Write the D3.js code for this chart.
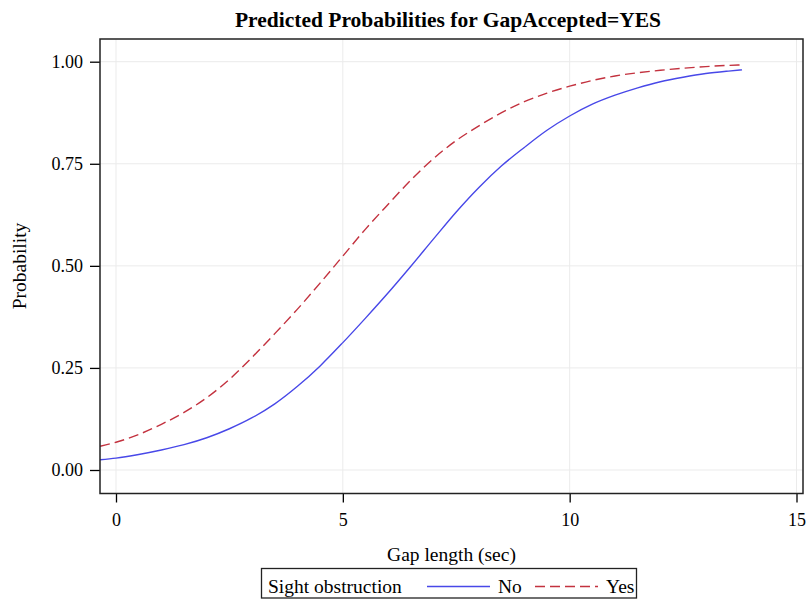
<!DOCTYPE html>
<html>
<head>
<meta charset="utf-8">
<script src="https://cdn.jsdelivr.net/npm/d3@7"></script>
<style>
  body { margin: 0; background: #fff; }
  svg { font-family: "Liberation Serif", "Times New Roman", serif; }
</style>
</head>
<body>
<svg width="806" height="599"></svg>
<script>
const gapLength = [-0.35, 0, 0.5, 1, 1.5, 2, 2.5, 3, 3.5, 4, 4.5, 5, 5.5, 6, 6.5, 7,
    7.5, 8, 8.5, 9, 9.5, 10, 10.5, 11, 11.5, 12, 12.5, 13, 13.5, 13.8]

// Sight obstruction = No
const probNo = [0.025, 0.029, 0.038, 0.049, 0.062, 0.079, 0.101, 0.128, 0.162, 0.205,
    0.255, 0.312, 0.372, 0.434, 0.499, 0.566, 0.632, 0.692, 0.745, 0.790, 0.832, 0.867,
    0.896, 0.918, 0.936, 0.951, 0.962, 0.971, 0.977, 0.980]

// Sight obstruction = Yes
const probYes = [0.058, 0.068, 0.087, 0.112, 0.141, 0.177, 0.222, 0.276, 0.334, 0.394,
    0.458, 0.524, 0.590, 0.651, 0.710, 0.763, 0.807, 0.843, 0.875, 0.902, 0.923, 0.940,
    0.954, 0.965, 0.973, 0.979, 0.984, 0.988, 0.991, 0.992]

const xTicks = [0, 5, 10, 15]
const yTicks = [0, 0.25, 0.5, 0.75, 1]

const blue = "#4848e8"
const red = "#c3323f"

const svg = d3.select("svg")

// plot frame (window.top is taken, so prefixed names)
const plotLeft = 100, plotRight = 803, plotTop = 39, plotBottom = 493.5

const xScale = d3.scaleLinear()
    .domain([0, 15])
    .range([116, 796.5])

const yScale = d3.scaleLinear()
    .domain([0, 1])
    .range([470, 61.7])

//grid lines first so they sit behind the curves
svg.append("g")
    .selectAll("line")
    .data(xTicks)
    .enter()
    .append("line")
    .attr("x1", d => xScale(d)).attr("x2", d => xScale(d))
    .attr("y1", plotTop).attr("y2", plotBottom)
    .attr("stroke", "#ebebeb")
    .attr("stroke-width", 1)

svg.append("g")
    .selectAll("line")
    .data(yTicks)
    .enter()
    .append("line")
    .attr("x1", plotLeft).attr("x2", plotRight)
    .attr("y1", d => yScale(d)).attr("y2", d => yScale(d))
    .attr("stroke", "#ebebeb")
    .attr("stroke-width", 1)

// axes
const xAxis = svg.append("g")
    .attr("transform", `translate(0, ${plotBottom})`)
    .call(d3.axisBottom(xScale).tickValues(xTicks).tickFormat(d3.format("d"))
        .tickSize(9).tickSizeOuter(0).tickPadding(11))
xAxis.select(".domain").remove()

const yAxis = svg.append("g")
    .attr("transform", `translate(${plotLeft}, 0)`)
    .call(d3.axisLeft(yScale).tickValues(yTicks).tickFormat(d3.format(".2f"))
        .tickSize(10).tickSizeOuter(0).tickPadding(7))
yAxis.select(".domain").remove()

svg.selectAll(".tick line").attr("stroke", "#000").attr("stroke-width", 1.3)
svg.selectAll(".tick text")
    .attr("fill", "#000")
    .style("font-family", '"Liberation Serif", serif')
    .style("font-size", "18px")

// curves
const line = d3.line()
    .x((d, i) => xScale(gapLength[i]))
    .y(d => yScale(d))
    .curve(d3.curveMonotoneX)

const clip = svg.append("clipPath").attr("id", "plotclip")
clip.append("rect")
    .attr("x", plotLeft).attr("y", plotTop)
    .attr("width", plotRight - plotLeft).attr("height", plotBottom - plotTop)

svg.append("path")
    .datum(probNo)
    .attr("clip-path", "url(#plotclip)")
    .attr("d", line)
    .attr("fill", "none")
    .attr("stroke", blue)
    .attr("stroke-width", 1.4)

svg.append("path")
    .datum(probYes)
    .attr("clip-path", "url(#plotclip)")
    .attr("d", line)
    .attr("fill", "none")
    .attr("stroke", red)
    .attr("stroke-width", 1.4)
    .attr("stroke-dasharray", "10,5")

// frame
svg.append("rect")
    .attr("x", plotLeft).attr("y", plotTop)
    .attr("width", plotRight - plotLeft).attr("height", plotBottom - plotTop)
    .attr("fill", "none")
    .attr("stroke", "#222")
    .attr("stroke-width", 1.5)

//title
svg.append("text")
    .attr("x", 448)
    .attr("y", 27)
    .attr("text-anchor", "middle")
    .style("font-weight", "bold")
    .style("font-size", "21.5px")
    .text("Predicted Probabilities for GapAccepted=YES")

// axis labels
svg.append("text")
    .attr("x", 451.5)
    .attr("y", 561)
    .attr("text-anchor", "middle")
    .style("font-size", "19.5px")
    .text("Gap length (sec)")

svg.append("text")
    .attr("transform", "translate(26, 266) rotate(-90)")
    .attr("text-anchor", "middle")
    .style("font-size", "19.5px")
    .text("Probability")

// legend
const legend = svg.append("g")
legend.append("rect")
    .attr("x", 261.5).attr("y", 568.5)
    .attr("width", 375).attr("height", 29.5)
    .attr("fill", "none")
    .attr("stroke", "#222")
    .attr("stroke-width", 1.3)

legend.append("text")
    .attr("x", 268).attr("y", 593)
    .style("font-size", "19.5px")
    .text("Sight obstruction")

const legendItems = [
    {label: "No", color: blue, dash: null, x0: 427},
    {label: "Yes", color: red, dash: "10,5", x0: 535}
]

legendItems.forEach(function(it) {
    legend.append("line")
        .attr("x1", it.x0).attr("x2", it.x0 + 63)
        .attr("y1", 586.5).attr("y2", 586.5)
        .attr("stroke", it.color)
        .attr("stroke-width", 1.4)
        .attr("stroke-dasharray", it.dash)
    legend.append("text")
        .attr("x", it.x0 + 71).attr("y", 593)
        .style("font-size", "19.5px")
        .text(it.label)
})
</script>
</body>
</html>
